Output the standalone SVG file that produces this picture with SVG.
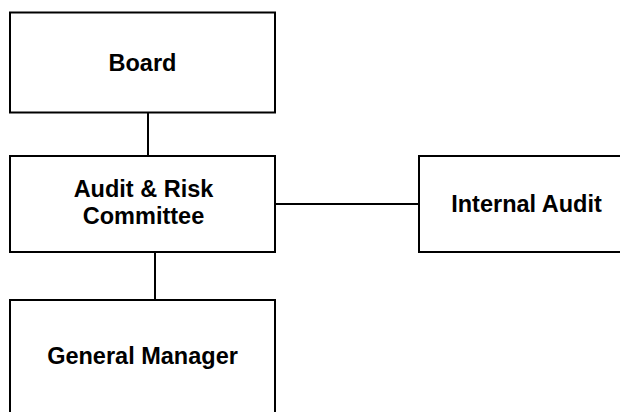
<svg xmlns="http://www.w3.org/2000/svg" width="620" height="412" viewBox="0 0 620 412">
<style>
.box{fill:#fff;stroke:#000;stroke-width:2}
.lbl{font-family:"Liberation Sans",Arial,sans-serif;font-weight:bold;font-size:23.5px;fill:#000;text-anchor:middle}
.con{stroke:#000;stroke-width:2;fill:none}
</style>
<rect width="620" height="412" fill="#fff"/>
<g id="connectors">
<line class="con" x1="148" y1="113" x2="148" y2="156"/>
<line class="con" x1="155" y1="252" x2="155" y2="300"/>
<line class="con" x1="275" y1="204" x2="419" y2="204"/>
</g>
<g id="board">
<rect class="box" x="10" y="12.5" width="265" height="100"/>
<text class="lbl" x="142.5" y="71">Board</text>
</g>
<g id="audit-risk-committee">
<rect class="box" x="10" y="156" width="265" height="96"/>
<text class="lbl" x="143.5" y="197">Audit &amp; Risk</text>
<text class="lbl" x="143.5" y="224">Committee</text>
</g>
<g id="internal-audit">
<rect class="box" x="419" y="156" width="216" height="96"/>
<text class="lbl" x="526.5" y="211.5">Internal Audit</text>
</g>
<g id="general-manager">
<rect class="box" x="10" y="300" width="265" height="130"/>
<text class="lbl" x="142.5" y="364">General Manager</text>
</g>
</svg>
